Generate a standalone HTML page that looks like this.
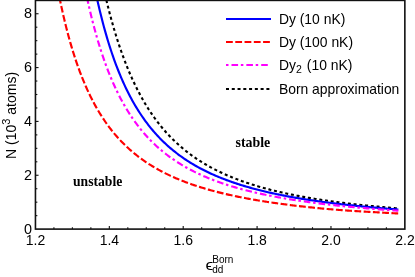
<!DOCTYPE html>
<html><head><meta charset="utf-8"><title>plot</title>
<style>
html,body{margin:0;padding:0;background:#fff;}
body{width:415px;height:277px;overflow:hidden;}
svg{display:block;will-change:transform;}
text{font-family:"Liberation Sans",sans-serif;fill:#000;}
.tk{font-size:14px;}
.lg{font-size:13.9px;}
.b{font-family:"Liberation Serif",serif;font-weight:bold;font-size:13.8px;}
</style></head><body>
<svg width="415" height="277" viewBox="0 0 415 277">
<rect width="415" height="277" fill="#fff"/>
<defs><clipPath id="c"><rect x="35.45" y="0" width="369.40000000000003" height="229.1"/></clipPath></defs>
<g clip-path="url(#c)" fill="none" stroke-width="2.15">
<path d="M101.66,-20.69 L102.74,-15.66 L103.82,-10.78 L104.90,-6.04 L105.98,-1.44 L107.06,3.03 L108.14,7.37 L109.22,11.58 L110.30,15.68 L111.38,19.66 L112.46,23.54 L113.55,27.30 L114.63,30.97 L115.71,34.53 L116.79,38.00 L117.87,41.38 L118.95,44.66 L120.03,47.87 L121.11,50.98 L122.19,54.02 L123.27,56.98 L124.35,59.87 L125.43,62.68 L126.51,65.42 L127.59,68.09 L128.67,70.70 L129.75,73.25 L130.83,75.73 L131.91,78.15 L132.99,80.52 L134.07,82.82 L135.15,85.08 L136.23,87.28 L137.31,89.43 L138.39,91.53 L139.47,93.58 L140.55,95.59 L141.63,97.55 L142.71,99.47 L143.79,101.34 L144.87,103.17 L145.95,104.97 L147.03,106.72 L148.11,108.44 L149.19,110.11 L150.27,111.76 L151.35,113.36 L152.43,114.94 L153.51,116.48 L154.59,117.99 L155.67,119.46 L156.75,120.91 L157.83,122.33 L158.91,123.72 L159.99,125.08 L161.07,126.41 L162.15,127.72 L163.23,129.00 L164.31,130.25 L165.39,131.49 L166.47,132.69 L167.55,133.88 L168.63,135.04 L169.71,136.18 L170.80,137.30 L171.88,138.39 L172.96,139.47 L174.04,140.52 L175.12,141.56 L176.20,142.58 L177.28,143.58 L178.36,144.56 L179.44,145.52 L180.52,146.47 L181.60,147.39 L182.68,148.31 L183.76,149.20 L184.84,150.08 L185.92,150.95 L187.00,151.80 L188.08,152.63 L189.16,153.45 L190.24,154.26 L191.32,155.05 L192.40,155.83 L193.48,156.60 L194.56,157.35 L195.64,158.09 L196.72,158.82 L197.80,159.54 L198.88,160.25 L199.96,160.94 L201.04,161.62 L202.12,162.29 L203.20,162.95 L204.28,163.60 L205.36,164.24 L206.44,164.87 L207.52,165.49 L208.60,166.11 L209.68,166.71 L210.76,167.30 L211.84,167.88 L212.92,168.45 L214.00,169.02 L215.08,169.58 L216.16,170.12 L217.24,170.66 L218.32,171.19 L219.40,171.72 L220.48,172.23 L221.56,172.74 L222.64,173.24 L223.72,173.74 L224.80,174.22 L225.88,174.70 L226.96,175.18 L228.05,175.64 L229.13,176.10 L230.21,176.55 L231.29,177.00 L232.37,177.44 L233.45,177.88 L234.53,178.30 L235.61,178.73 L236.69,179.14 L237.77,179.55 L238.85,179.96 L239.93,180.36 L241.01,180.75 L242.09,181.14 L243.17,181.52 L244.25,181.90 L245.33,182.28 L246.41,182.64 L247.49,183.01 L248.57,183.37 L249.65,183.72 L250.73,184.07 L251.81,184.42 L252.89,184.76 L253.97,185.09 L255.05,185.43 L256.13,185.75 L257.21,186.08 L258.29,186.40 L259.37,186.71 L260.45,187.02 L261.53,187.33 L262.61,187.64 L263.69,187.94 L264.77,188.23 L265.85,188.53 L266.93,188.82 L268.01,189.10 L269.09,189.38 L270.17,189.66 L271.25,189.94 L272.33,190.21 L273.41,190.48 L274.49,190.75 L275.57,191.01 L276.65,191.27 L277.73,191.53 L278.81,191.78 L279.89,192.03 L280.97,192.28 L282.05,192.52 L283.13,192.77 L284.21,193.01 L285.30,193.24 L286.38,193.48 L287.46,193.71 L288.54,193.94 L289.62,194.16 L290.70,194.39 L291.78,194.61 L292.86,194.83 L293.94,195.05 L295.02,195.26 L296.10,195.47 L297.18,195.68 L298.26,195.89 L299.34,196.09 L300.42,196.30 L301.50,196.50 L302.58,196.69 L303.66,196.89 L304.74,197.09 L305.82,197.28 L306.90,197.47 L307.98,197.66 L309.06,197.84 L310.14,198.03 L311.22,198.21 L312.30,198.39 L313.38,198.57 L314.46,198.75 L315.54,198.92 L316.62,199.09 L317.70,199.27 L318.78,199.43 L319.86,199.60 L320.94,199.77 L322.02,199.93 L323.10,200.10 L324.18,200.26 L325.26,200.42 L326.34,200.58 L327.42,200.73 L328.50,200.89 L329.58,201.04 L330.66,201.19 L331.74,201.34 L332.82,201.49 L333.90,201.64 L334.98,201.79 L336.06,201.93 L337.14,202.08 L338.22,202.22 L339.30,202.36 L340.38,202.50 L341.47,202.64 L342.55,202.77 L343.63,202.91 L344.71,203.04 L345.79,203.18 L346.87,203.31 L347.95,203.44 L349.03,203.57 L350.11,203.70 L351.19,203.83 L352.27,203.95 L353.35,204.08 L354.43,204.20 L355.51,204.32 L356.59,204.44 L357.67,204.56 L358.75,204.68 L359.83,204.80 L360.91,204.92 L361.99,205.04 L363.07,205.15 L364.15,205.27 L365.23,205.38 L366.31,205.49 L367.39,205.60 L368.47,205.71 L369.55,205.82 L370.63,205.93 L371.71,206.04 L372.79,206.14 L373.87,206.25 L374.95,206.35 L376.03,206.46 L377.11,206.56 L378.19,206.66 L379.27,206.76 L380.35,206.86 L381.43,206.96 L382.51,207.06 L383.59,207.16 L384.67,207.26 L385.75,207.35 L386.83,207.45 L387.91,207.54 L388.99,207.64 L390.07,207.73 L391.15,207.82 L392.23,207.91 L393.31,208.01 L394.39,208.10 L395.47,208.19 L396.55,208.27 L397.63,208.36 L398.36,208.42" stroke="#000" stroke-dasharray="3 2.77" stroke-width="2.1" stroke-dashoffset="1.8"/>
<path d="M92.90,-21.23 L93.91,-16.15 L94.91,-11.22 L95.92,-6.44 L96.92,-1.81 L97.93,2.68 L98.93,7.03 L99.94,11.26 L100.95,15.36 L101.95,19.34 L102.96,23.21 L103.96,26.96 L104.97,30.61 L105.98,34.16 L106.98,37.61 L107.99,40.97 L108.99,44.23 L110.00,47.41 L111.01,50.50 L112.01,53.51 L113.02,56.44 L114.02,59.29 L115.03,62.07 L116.03,64.78 L117.04,67.42 L118.05,70.00 L119.05,72.51 L120.06,74.96 L121.06,77.35 L122.07,79.68 L123.08,81.95 L124.08,84.17 L125.09,86.34 L126.09,88.45 L127.10,90.52 L128.11,92.54 L129.11,94.51 L130.12,96.44 L131.12,98.32 L132.13,100.16 L133.13,101.96 L134.14,103.72 L135.15,105.45 L136.15,107.13 L137.16,108.78 L138.16,110.39 L139.17,111.97 L140.18,113.52 L141.18,115.03 L142.19,116.51 L143.19,117.96 L144.20,119.38 L145.21,120.77 L146.21,122.14 L147.22,123.47 L148.22,124.78 L149.23,126.07 L150.24,127.33 L151.24,128.56 L152.25,129.77 L153.25,130.96 L154.26,132.12 L155.26,133.26 L156.27,134.38 L157.28,135.48 L158.28,136.56 L159.29,137.62 L160.29,138.66 L161.30,139.68 L162.31,140.68 L163.31,141.67 L164.32,142.63 L165.32,143.58 L166.33,144.51 L167.34,145.43 L168.34,146.33 L169.35,147.21 L170.35,148.08 L171.36,148.93 L172.36,149.77 L173.37,150.60 L174.38,151.41 L175.38,152.20 L176.39,152.99 L177.39,153.76 L178.40,154.52 L179.41,155.26 L180.41,156.00 L181.42,156.72 L182.42,157.43 L183.43,158.13 L184.44,158.82 L185.44,159.49 L186.45,160.16 L187.45,160.81 L188.46,161.46 L189.46,162.09 L190.47,162.72 L191.48,163.34 L192.48,163.94 L193.49,164.54 L194.49,165.13 L195.50,165.71 L196.51,166.28 L197.51,166.84 L198.52,167.40 L199.52,167.94 L200.53,168.48 L201.54,169.01 L202.54,169.53 L203.55,170.05 L204.55,170.56 L205.56,171.06 L206.56,171.55 L207.57,172.04 L208.58,172.52 L209.58,172.99 L210.59,173.46 L211.59,173.92 L212.60,174.37 L213.61,174.82 L214.61,175.26 L215.62,175.70 L216.62,176.13 L217.63,176.55 L218.64,176.97 L219.64,177.38 L220.65,177.79 L221.65,178.19 L222.66,178.59 L223.67,178.98 L224.67,179.37 L225.68,179.75 L226.68,180.12 L227.69,180.50 L228.69,180.86 L229.70,181.22 L230.71,181.58 L231.71,181.94 L232.72,182.28 L233.72,182.63 L234.73,182.97 L235.74,183.31 L236.74,183.64 L237.75,183.97 L238.75,184.29 L239.76,184.61 L240.77,184.93 L241.77,185.24 L242.78,185.55 L243.78,185.85 L244.79,186.15 L245.79,186.45 L246.80,186.75 L247.81,187.04 L248.81,187.32 L249.82,187.61 L250.82,187.89 L251.83,188.17 L252.84,188.44 L253.84,188.71 L254.85,188.98 L255.85,189.25 L256.86,189.51 L257.87,189.77 L258.87,190.03 L259.88,190.28 L260.88,190.53 L261.89,190.78 L262.89,191.02 L263.90,191.27 L264.91,191.51 L265.91,191.74 L266.92,191.98 L267.92,192.21 L268.93,192.44 L269.94,192.67 L270.94,192.89 L271.95,193.12 L272.95,193.34 L273.96,193.55 L274.97,193.77 L275.97,193.98 L276.98,194.19 L277.98,194.40 L278.99,194.61 L280.00,194.81 L281.00,195.02 L282.01,195.22 L283.01,195.42 L284.02,195.61 L285.02,195.81 L286.03,196.00 L287.04,196.19 L288.04,196.38 L289.05,196.57 L290.05,196.75 L291.06,196.94 L292.07,197.12 L293.07,197.30 L294.08,197.47 L295.08,197.65 L296.09,197.82 L297.10,198.00 L298.10,198.17 L299.11,198.34 L300.11,198.51 L301.12,198.67 L302.12,198.84 L303.13,199.00 L304.14,199.16 L305.14,199.32 L306.15,199.48 L307.15,199.64 L308.16,199.79 L309.17,199.95 L310.17,200.10 L311.18,200.25 L312.18,200.40 L313.19,200.55 L314.20,200.70 L315.20,200.85 L316.21,200.99 L317.21,201.13 L318.22,201.28 L319.22,201.42 L320.23,201.56 L321.24,201.69 L322.24,201.83 L323.25,201.97 L324.25,202.10 L325.26,202.24 L326.27,202.37 L327.27,202.50 L328.28,202.63 L329.28,202.76 L330.29,202.89 L331.30,203.01 L332.30,203.14 L333.31,203.26 L334.31,203.39 L335.32,203.51 L336.33,203.63 L337.33,203.75 L338.34,203.87 L339.34,203.99 L340.35,204.11 L341.35,204.22 L342.36,204.34 L343.37,204.45 L344.37,204.57 L345.38,204.68 L346.38,204.79 L347.39,204.90 L348.40,205.01 L349.40,205.12 L350.41,205.23 L351.41,205.34 L352.42,205.44 L353.43,205.55 L354.43,205.65 L355.44,205.76 L356.44,205.86 L357.45,205.96 L358.45,206.07 L359.46,206.17 L360.47,206.27 L361.47,206.37 L362.48,206.46 L363.48,206.56 L364.49,206.66 L365.50,206.75 L366.50,206.85 L367.51,206.94 L368.51,207.04 L369.52,207.13 L370.53,207.22 L371.53,207.32 L372.54,207.41 L373.54,207.50 L374.55,207.59 L375.55,207.68 L376.56,207.77 L377.57,207.85 L378.57,207.94 L379.58,208.03 L380.58,208.11 L381.59,208.20 L382.60,208.28 L383.60,208.37 L384.61,208.45 L385.61,208.53 L386.62,208.61 L387.63,208.70 L388.63,208.78 L389.64,208.86 L390.64,208.94 L391.65,209.02 L392.65,209.09 L393.66,209.17 L394.67,209.25 L395.67,209.33 L396.68,209.40 L397.68,209.48 L398.36,209.53" stroke="#00f"/>
<path d="M56.02,-20.54 L57.06,-14.88 L58.10,-9.42 L59.13,-4.16 L60.17,0.93 L61.21,5.83 L62.24,10.58 L63.28,15.16 L64.32,19.60 L65.36,23.88 L66.39,28.04 L67.43,32.05 L68.47,35.95 L69.51,39.72 L70.54,43.37 L71.58,46.91 L72.62,50.35 L73.66,53.69 L74.69,56.92 L75.73,60.06 L76.77,63.11 L77.81,66.08 L78.84,68.96 L79.88,71.76 L80.92,74.48 L81.95,77.13 L82.99,79.70 L84.03,82.21 L85.07,84.65 L86.10,87.03 L87.14,89.34 L88.18,91.60 L89.22,93.79 L90.25,95.93 L91.29,98.02 L92.33,100.05 L93.37,102.04 L94.40,103.98 L95.44,105.86 L96.48,107.71 L97.52,109.51 L98.55,111.27 L99.59,112.98 L100.63,114.66 L101.67,116.30 L102.70,117.90 L103.74,119.46 L104.78,120.99 L105.81,122.49 L106.85,123.95 L107.89,125.38 L108.93,126.78 L109.96,128.15 L111.00,129.49 L112.04,130.80 L113.08,132.08 L114.11,133.34 L115.15,134.57 L116.19,135.78 L117.23,136.96 L118.26,138.11 L119.30,139.25 L120.34,140.36 L121.38,141.45 L122.41,142.52 L123.45,143.56 L124.49,144.59 L125.52,145.60 L126.56,146.58 L127.60,147.55 L128.64,148.50 L129.67,149.44 L130.71,150.35 L131.75,151.25 L132.79,152.13 L133.82,153.00 L134.86,153.85 L135.90,154.68 L136.94,155.50 L137.97,156.31 L139.01,157.10 L140.05,157.88 L141.09,158.64 L142.12,159.39 L143.16,160.13 L144.20,160.86 L145.23,161.57 L146.27,162.27 L147.31,162.96 L148.35,163.64 L149.38,164.30 L150.42,164.96 L151.46,165.60 L152.50,166.24 L153.53,166.86 L154.57,167.48 L155.61,168.08 L156.65,168.67 L157.68,169.26 L158.72,169.84 L159.76,170.40 L160.80,170.96 L161.83,171.51 L162.87,172.05 L163.91,172.59 L164.95,173.11 L165.98,173.63 L167.02,174.14 L168.06,174.64 L169.09,175.13 L170.13,175.62 L171.17,176.10 L172.21,176.57 L173.24,177.04 L174.28,177.50 L175.32,177.95 L176.36,178.40 L177.39,178.84 L178.43,179.27 L179.47,179.70 L180.51,180.12 L181.54,180.54 L182.58,180.95 L183.62,181.35 L184.66,181.75 L185.69,182.14 L186.73,182.53 L187.77,182.91 L188.80,183.29 L189.84,183.66 L190.88,184.03 L191.92,184.40 L192.95,184.75 L193.99,185.11 L195.03,185.46 L196.07,185.80 L197.10,186.14 L198.14,186.48 L199.18,186.81 L200.22,187.13 L201.25,187.46 L202.29,187.78 L203.33,188.09 L204.37,188.40 L205.40,188.71 L206.44,189.01 L207.48,189.31 L208.51,189.61 L209.55,189.90 L210.59,190.19 L211.63,190.47 L212.66,190.76 L213.70,191.03 L214.74,191.31 L215.78,191.58 L216.81,191.85 L217.85,192.11 L218.89,192.38 L219.93,192.64 L220.96,192.89 L222.00,193.15 L223.04,193.40 L224.08,193.64 L225.11,193.89 L226.15,194.13 L227.19,194.37 L228.23,194.61 L229.26,194.84 L230.30,195.07 L231.34,195.30 L232.37,195.53 L233.41,195.75 L234.45,195.97 L235.49,196.19 L236.52,196.41 L237.56,196.62 L238.60,196.83 L239.64,197.04 L240.67,197.25 L241.71,197.45 L242.75,197.66 L243.79,197.86 L244.82,198.05 L245.86,198.25 L246.90,198.44 L247.94,198.64 L248.97,198.83 L250.01,199.02 L251.05,199.20 L252.08,199.39 L253.12,199.57 L254.16,199.75 L255.20,199.93 L256.23,200.11 L257.27,200.28 L258.31,200.45 L259.35,200.63 L260.38,200.80 L261.42,200.97 L262.46,201.13 L263.50,201.30 L264.53,201.46 L265.57,201.62 L266.61,201.78 L267.65,201.94 L268.68,202.10 L269.72,202.25 L270.76,202.41 L271.79,202.56 L272.83,202.71 L273.87,202.86 L274.91,203.01 L275.94,203.16 L276.98,203.30 L278.02,203.45 L279.06,203.59 L280.09,203.73 L281.13,203.87 L282.17,204.01 L283.21,204.15 L284.24,204.29 L285.28,204.42 L286.32,204.55 L287.36,204.69 L288.39,204.82 L289.43,204.95 L290.47,205.08 L291.51,205.21 L292.54,205.33 L293.58,205.46 L294.62,205.58 L295.65,205.71 L296.69,205.83 L297.73,205.95 L298.77,206.07 L299.80,206.19 L300.84,206.31 L301.88,206.43 L302.92,206.54 L303.95,206.66 L304.99,206.77 L306.03,206.88 L307.07,207.00 L308.10,207.11 L309.14,207.22 L310.18,207.33 L311.22,207.44 L312.25,207.54 L313.29,207.65 L314.33,207.76 L315.36,207.86 L316.40,207.97 L317.44,208.07 L318.48,208.17 L319.51,208.27 L320.55,208.37 L321.59,208.47 L322.63,208.57 L323.66,208.67 L324.70,208.76 L325.74,208.86 L326.78,208.95 L327.81,209.04 L328.85,209.13 L329.89,209.22 L330.93,209.30 L331.96,209.39 L333.00,209.48 L334.04,209.56 L335.07,209.64 L336.11,209.72 L337.15,209.80 L338.19,209.88 L339.22,209.96 L340.26,210.04 L341.30,210.12 L342.34,210.19 L343.37,210.27 L344.41,210.34 L345.45,210.41 L346.49,210.48 L347.52,210.56 L348.56,210.63 L349.60,210.70 L350.64,210.76 L351.67,210.83 L352.71,210.90 L353.75,210.97 L354.79,211.03 L355.82,211.10 L356.86,211.16 L357.90,211.23 L358.93,211.29 L359.97,211.35 L361.01,211.42 L362.05,211.48 L363.08,211.54 L364.12,211.60 L365.16,211.66 L366.20,211.72 L367.23,211.78 L368.27,211.84 L369.31,211.90 L370.35,211.96 L371.38,212.02 L372.42,212.07 L373.46,212.13 L374.50,212.19 L375.53,212.25 L376.57,212.30 L377.61,212.36 L378.64,212.42 L379.68,212.47 L380.72,212.53 L381.76,212.59 L382.79,212.64 L383.83,212.70 L384.87,212.76 L385.91,212.81 L386.94,212.87 L387.98,212.93 L389.02,212.98 L390.06,213.04 L391.09,213.09 L392.13,213.15 L393.17,213.21 L394.21,213.26 L395.24,213.32 L396.28,213.38 L397.32,213.44 L398.36,213.49" stroke="#f00" stroke-dasharray="6.8 2.47" stroke-dashoffset="0.8"/>
<path d="M83.49,-19.75 L84.53,-14.46 L85.56,-9.34 L86.59,-4.39 L87.63,0.40 L88.66,5.04 L89.69,9.54 L90.73,13.90 L91.76,18.13 L92.79,22.23 L93.83,26.21 L94.86,30.06 L95.89,33.81 L96.93,37.45 L97.96,40.98 L98.99,44.41 L100.03,47.75 L101.06,50.99 L102.09,54.14 L103.13,57.20 L104.16,60.18 L105.19,63.09 L106.23,65.91 L107.26,68.66 L108.29,71.34 L109.33,73.94 L110.36,76.48 L111.40,78.96 L112.43,81.37 L113.46,83.72 L114.50,86.01 L115.53,88.25 L116.56,90.43 L117.60,92.56 L118.63,94.64 L119.66,96.67 L120.70,98.64 L121.73,100.58 L122.76,102.47 L123.80,104.31 L124.83,106.11 L125.86,107.87 L126.90,109.59 L127.93,111.27 L128.96,112.92 L130.00,114.53 L131.03,116.10 L132.06,117.64 L133.10,119.14 L134.13,120.62 L135.17,122.06 L136.20,123.47 L137.23,124.85 L138.27,126.20 L139.30,127.53 L140.33,128.82 L141.37,130.09 L142.40,131.34 L143.43,132.56 L144.47,133.75 L145.50,134.93 L146.53,136.08 L147.57,137.20 L148.60,138.31 L149.63,139.39 L150.67,140.45 L151.70,141.49 L152.73,142.52 L153.77,143.52 L154.80,144.50 L155.83,145.47 L156.87,146.42 L157.90,147.35 L158.93,148.26 L159.97,149.16 L161.00,150.04 L162.04,150.91 L163.07,151.76 L164.10,152.59 L165.14,153.41 L166.17,154.22 L167.20,155.01 L168.24,155.79 L169.27,156.55 L170.30,157.30 L171.34,158.04 L172.37,158.77 L173.40,159.49 L174.44,160.19 L175.47,160.88 L176.50,161.56 L177.54,162.23 L178.57,162.89 L179.60,163.53 L180.64,164.17 L181.67,164.80 L182.70,165.41 L183.74,166.02 L184.77,166.62 L185.81,167.21 L186.84,167.79 L187.87,168.36 L188.91,168.92 L189.94,169.47 L190.97,170.02 L192.01,170.55 L193.04,171.08 L194.07,171.60 L195.11,172.11 L196.14,172.62 L197.17,173.11 L198.21,173.60 L199.24,174.09 L200.27,174.56 L201.31,175.03 L202.34,175.50 L203.37,175.95 L204.41,176.40 L205.44,176.84 L206.47,177.28 L207.51,177.71 L208.54,178.14 L209.57,178.56 L210.61,178.97 L211.64,179.38 L212.68,179.78 L213.71,180.17 L214.74,180.57 L215.78,180.95 L216.81,181.33 L217.84,181.71 L218.88,182.08 L219.91,182.44 L220.94,182.81 L221.98,183.16 L223.01,183.51 L224.04,183.86 L225.08,184.20 L226.11,184.54 L227.14,184.88 L228.18,185.21 L229.21,185.53 L230.24,185.85 L231.28,186.17 L232.31,186.48 L233.34,186.79 L234.38,187.10 L235.41,187.40 L236.44,187.70 L237.48,187.99 L238.51,188.29 L239.55,188.57 L240.58,188.86 L241.61,189.14 L242.65,189.42 L243.68,189.69 L244.71,189.96 L245.75,190.23 L246.78,190.49 L247.81,190.75 L248.85,191.01 L249.88,191.27 L250.91,191.52 L251.95,191.77 L252.98,192.02 L254.01,192.26 L255.05,192.50 L256.08,192.74 L257.11,192.98 L258.15,193.21 L259.18,193.44 L260.21,193.67 L261.25,193.89 L262.28,194.12 L263.32,194.34 L264.35,194.56 L265.38,194.77 L266.42,194.99 L267.45,195.20 L268.48,195.41 L269.52,195.61 L270.55,195.82 L271.58,196.02 L272.62,196.22 L273.65,196.42 L274.68,196.61 L275.72,196.81 L276.75,197.00 L277.78,197.19 L278.82,197.38 L279.85,197.56 L280.88,197.75 L281.92,197.93 L282.95,198.11 L283.98,198.29 L285.02,198.46 L286.05,198.64 L287.08,198.81 L288.12,198.98 L289.15,199.15 L290.19,199.32 L291.22,199.49 L292.25,199.65 L293.29,199.82 L294.32,199.98 L295.35,200.14 L296.39,200.30 L297.42,200.45 L298.45,200.61 L299.49,200.76 L300.52,200.92 L301.55,201.07 L302.59,201.22 L303.62,201.37 L304.65,201.51 L305.69,201.66 L306.72,201.80 L307.75,201.94 L308.79,202.09 L309.82,202.23 L310.85,202.36 L311.89,202.50 L312.92,202.64 L313.96,202.77 L314.99,202.91 L316.02,203.04 L317.06,203.17 L318.09,203.30 L319.12,203.43 L320.16,203.56 L321.19,203.69 L322.22,203.81 L323.26,203.94 L324.29,204.06 L325.32,204.18 L326.36,204.30 L327.39,204.42 L328.42,204.54 L329.46,204.66 L330.49,204.78 L331.52,204.89 L332.56,205.01 L333.59,205.12 L334.62,205.24 L335.66,205.35 L336.69,205.46 L337.72,205.57 L338.76,205.68 L339.79,205.79 L340.83,205.90 L341.86,206.00 L342.89,206.11 L343.93,206.21 L344.96,206.32 L345.99,206.42 L347.03,206.52 L348.06,206.62 L349.09,206.72 L350.13,206.82 L351.16,206.92 L352.19,207.02 L353.23,207.12 L354.26,207.22 L355.29,207.31 L356.33,207.41 L357.36,207.50 L358.39,207.59 L359.43,207.69 L360.46,207.78 L361.49,207.87 L362.53,207.96 L363.56,208.05 L364.60,208.14 L365.63,208.23 L366.66,208.32 L367.70,208.40 L368.73,208.49 L369.76,208.58 L370.80,208.66 L371.83,208.75 L372.86,208.83 L373.90,208.91 L374.93,209.00 L375.96,209.08 L377.00,209.16 L378.03,209.24 L379.06,209.32 L380.10,209.40 L381.13,209.48 L382.16,209.56 L383.20,209.64 L384.23,209.71 L385.26,209.79 L386.30,209.87 L387.33,209.94 L388.36,210.02 L389.40,210.09 L390.43,210.17 L391.47,210.24 L392.50,210.31 L393.53,210.38 L394.57,210.46 L395.60,210.53 L396.63,210.60 L397.67,210.67 L398.36,210.72" stroke="#f0f" stroke-dasharray="2.5 3.0 6.6 2.75" stroke-dashoffset="3"/>
</g>
<g stroke="#111" stroke-width="1.6" fill="none">
<rect x="35.45" y="0.4" width="369.40" height="228.70"/>
</g>
<g stroke="#111" stroke-width="1.1"><line x1="53.92" y1="229.1" x2="53.92" y2="227.20"/><line x1="72.39" y1="229.1" x2="72.39" y2="227.20"/><line x1="90.86" y1="229.1" x2="90.86" y2="227.20"/><line x1="109.33" y1="229.1" x2="109.33" y2="226.00"/><line x1="127.80" y1="229.1" x2="127.80" y2="227.20"/><line x1="146.27" y1="229.1" x2="146.27" y2="227.20"/><line x1="164.74" y1="229.1" x2="164.74" y2="227.20"/><line x1="183.21" y1="229.1" x2="183.21" y2="226.00"/><line x1="201.68" y1="229.1" x2="201.68" y2="227.20"/><line x1="220.15" y1="229.1" x2="220.15" y2="227.20"/><line x1="238.62" y1="229.1" x2="238.62" y2="227.20"/><line x1="257.09" y1="229.1" x2="257.09" y2="226.00"/><line x1="275.56" y1="229.1" x2="275.56" y2="227.20"/><line x1="294.03" y1="229.1" x2="294.03" y2="227.20"/><line x1="312.50" y1="229.1" x2="312.50" y2="227.20"/><line x1="330.97" y1="229.1" x2="330.97" y2="226.00"/><line x1="349.44" y1="229.1" x2="349.44" y2="227.20"/><line x1="367.91" y1="229.1" x2="367.91" y2="227.20"/><line x1="386.38" y1="229.1" x2="386.38" y2="227.20"/><line x1="35.45" y1="215.64" x2="37.35" y2="215.64"/><line x1="35.45" y1="202.18" x2="37.35" y2="202.18"/><line x1="35.45" y1="188.72" x2="37.35" y2="188.72"/><line x1="35.45" y1="175.26" x2="38.55" y2="175.26"/><line x1="35.45" y1="161.80" x2="37.35" y2="161.80"/><line x1="35.45" y1="148.34" x2="37.35" y2="148.34"/><line x1="35.45" y1="134.88" x2="37.35" y2="134.88"/><line x1="35.45" y1="121.42" x2="38.55" y2="121.42"/><line x1="35.45" y1="107.96" x2="37.35" y2="107.96"/><line x1="35.45" y1="94.50" x2="37.35" y2="94.50"/><line x1="35.45" y1="81.04" x2="37.35" y2="81.04"/><line x1="35.45" y1="67.58" x2="38.55" y2="67.58"/><line x1="35.45" y1="54.12" x2="37.35" y2="54.12"/><line x1="35.45" y1="40.66" x2="37.35" y2="40.66"/><line x1="35.45" y1="27.20" x2="37.35" y2="27.20"/><line x1="35.45" y1="13.74" x2="38.55" y2="13.74"/></g>
<g class="tk" transform="scale(1,1.04)"><text x="35.55" y="235.96" text-anchor="middle">1.2</text><text x="109.43" y="235.96" text-anchor="middle">1.4</text><text x="183.31" y="235.96" text-anchor="middle">1.6</text><text x="257.19" y="235.96" text-anchor="middle">1.8</text><text x="331.07" y="235.96" text-anchor="middle">2.0</text><text x="404.95" y="235.96" text-anchor="middle">2.2</text><text x="32" y="224.66" text-anchor="end" font-size="14.4">0</text><text x="32" y="172.89" text-anchor="end" font-size="14.4">2</text><text x="32" y="121.12" text-anchor="end" font-size="14.4">4</text><text x="32" y="69.36" text-anchor="end" font-size="14.4">6</text><text x="32" y="17.59" text-anchor="end" font-size="14.4">8</text></g>
<g fill="none" stroke-width="2">
<line x1="226" y1="19" x2="271" y2="19" stroke="#00f"/>
<line x1="226" y1="42" x2="270" y2="42" stroke="#f00" stroke-dasharray="6.8 2.47"/>
<line x1="226" y1="65" x2="268.8" y2="65" stroke="#f0f" stroke-dasharray="2.5 3.0 6.6 2.75"/>
<line x1="226" y1="89" x2="269.5" y2="89" stroke="#000" stroke-dasharray="3 2.77" stroke-width="2.1"/>
</g>
<g class="lg">
<text x="278.9" y="23.6">Dy (10 nK)</text>
<text x="278.9" y="46.6">Dy (100 nK)</text>
<text x="278.9" y="69.5">Dy<tspan font-size="10.5" dy="3.4">2</tspan><tspan dy="-3.4" dx="1.2"> (10 nK)</tspan></text>
<text x="278.9" y="93.7">Born approximation</text>
</g>
<text class="b" x="235.5" y="147.3" style="font-size:13.9px">stable</text>
<text class="b" x="73" y="186.4" style="font-size:13.65px">unstable</text>
<text font-size="14" transform="translate(16.2,158.9) rotate(-90) scale(1,1.05)">N (10<tspan font-size="11" dy="-6">3</tspan><tspan dy="6"> atoms)</tspan></text>
<text transform="translate(205.5,269.5) scale(1.2,1.03)" font-size="14.6">ϵ</text>
<text x="212.3" y="263.4" font-size="10">Born</text>
<text x="212.3" y="273.3" font-size="10">dd</text>
</svg>
</body></html>
